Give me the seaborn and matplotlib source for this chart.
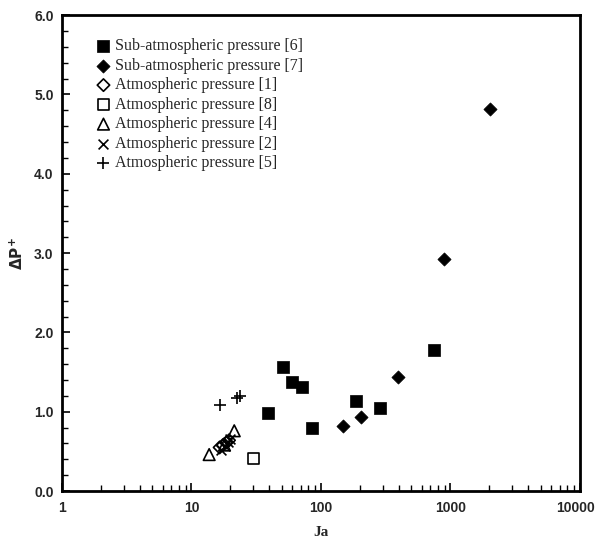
import matplotlib.pyplot as plt
import matplotlib.ticker as mticker
import seaborn as sns
import pandas as pd

sns.set_style('white')
plt.rcParams['font.family'] = ['Liberation Serif', 'DejaVu Serif']

# Ja vs dP+
ja_6 = [39, 51, 60, 71, 86, 186, 287, 751]
dp_6 = [0.99, 1.57, 1.37, 1.31, 0.79, 1.14, 1.05, 1.78]
ja_7 = [147, 204, 396, 891, 2030]
dp_7 = [0.82, 0.93, 1.44, 2.93, 4.82]
ja_1 = [16.5, 17.5, 18.5, 19.5]
dp_1 = [0.55, 0.58, 0.61, 0.64]
ja_8 = [30]
dp_8 = [0.41]
ja_4 = [13.7, 18.0, 21.4]
dp_4 = [0.46, 0.58, 0.76]
ja_2 = [17, 18, 19, 20]
dp_2 = [0.52, 0.57, 0.62, 0.66]
ja_5 = [16.6, 22.5, 23.5]
dp_5 = [1.08, 1.17, 1.20]

x_ticks = [1, 10, 100, 1000, 10000]
x_labels = ['1', '10', '100', '1000', '10000']

series = [
    ('Sub-atmospheric pressure [6]', ja_6, dp_6, 's', 'black', 80),
    ('Sub-atmospheric pressure [7]', ja_7, dp_7, 'D', 'black', 45),
    ('Atmospheric pressure [1]', ja_1, dp_1, 'D', 'none', 40),
    ('Atmospheric pressure [8]', ja_8, dp_8, 's', 'none', 60),
    ('Atmospheric pressure [4]', ja_4, dp_4, '^', 'none', 70),
    ('Atmospheric pressure [2]', ja_2, dp_2, 'x', 'black', 50),
    ('Atmospheric pressure [5]', ja_5, dp_5, '+', 'black', 80),
]

fig = plt.figure(figsize=(5.96, 5.42), dpi=100)
ax = fig.add_axes([0.104, 0.094, 0.869, 0.878])

for name, xs, ys, mk, fc, s in series:
    df = pd.DataFrame({'Ja': xs, 'dP': ys})
    sns.scatterplot(data=df, x='Ja', y='dP', marker=mk, s=s, ax=ax, label=name,
                    facecolor=fc, edgecolor='black', linewidth=1.2 if fc == 'none' or mk in 'x+' else 0.5,
                    color='black')

ax.set_xscale('log')
ax.set_xlim(1, 10000)
ax.set_ylim(0, 6)
ax.set_xticks(x_ticks)
# last label is drawn separately so it stays inside the figure
ax.set_xticklabels(x_labels[:-1] + [''])
ax.yaxis.set_major_locator(mticker.MultipleLocator(1.0))
ax.yaxis.set_minor_locator(mticker.MultipleLocator(0.2))
ax.yaxis.set_major_formatter(mticker.FormatStrFormatter('%.1f'))
ax.tick_params(which='both', direction='in', color='black', labelsize=10,
               bottom=True, left=True)
ax.tick_params(which='major', length=6, width=1.2)
ax.tick_params(which='minor', length=4, width=1.0)
ax.tick_params(axis='x', which='major', pad=7)
ax.tick_params(axis='y', which='major', pad=6)
for lab in ax.get_xticklabels() + ax.get_yticklabels():
    lab.set_fontfamily('Liberation Sans')
    lab.set_fontweight('bold')
ax.annotate(x_labels[-1], xy=(x_ticks[-1], 0), xycoords=('data', 'axes fraction'),
            xytext=(11, -7), textcoords='offset points', ha='right', va='top',
            fontsize=10, fontweight='bold', fontfamily='Liberation Sans')

for sp in ax.spines.values():
    sp.set_visible(True)
    sp.set_color('black')
    sp.set_linewidth(2)

ax.set_xlabel('Ja', fontsize=11, fontweight='bold', labelpad=8)
ax.set_ylabel(r'$\mathbf{\Delta P^{+}}$', fontsize=11, fontfamily='Liberation Sans', labelpad=6)

ax.legend(loc='upper left', bbox_to_anchor=(0.04, 0.975), frameon=False, fontsize=11.5,
          handletextpad=0.15, handlelength=1.2, borderpad=0.2, labelspacing=0.22)

fig.savefig('out.png', dpi=100)
